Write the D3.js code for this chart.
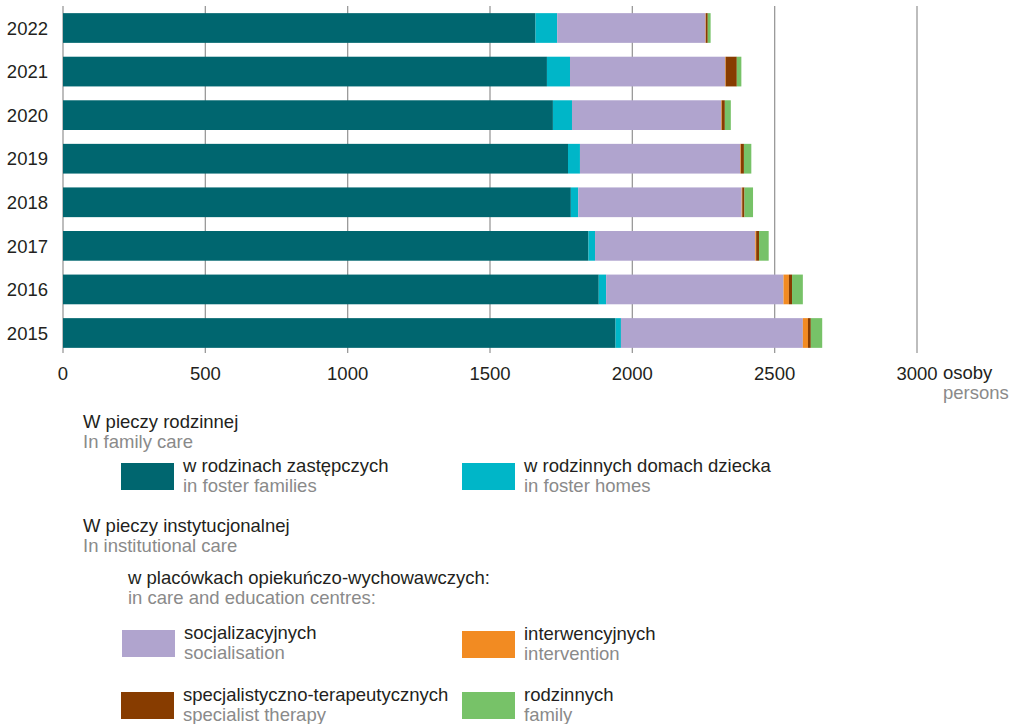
<!DOCTYPE html>
<html>
<head>
<meta charset="utf-8">
<script src="https://cdn.jsdelivr.net/npm/d3@7"></script>
<style>
  body { margin: 0; background: #fff; }
  text { font-family: "Liberation Sans", Arial, sans-serif; }
</style>
</head>
<body>
<div id="canvas"></div>
<script>
const years = ["2015", "2016", "2017", "2018", "2019", "2020", "2021", "2022"];

// values, persons
const fosterFamilies = [1941, 1882, 1846, 1784, 1774, 1721, 1700, 1660];
const fosterHomes = [19, 26, 23, 26, 42, 67, 81, 76];
const socialisation = [639, 623, 563, 574, 563, 524, 545, 521];
const intervention = [18, 19, 3, 2, 2, 2, 2, 1];
const specialist = [10, 11, 10, 8, 11, 11, 39, 7];
const family = [40, 38, 34, 30, 26, 21, 16, 10];

const xTicks = [0, 500, 1000, 1500, 2000, 2500, 3000];

const keys = ["fosterFamilies", "fosterHomes", "socialisation", "intervention", "specialist", "family"];
const colors = {
  fosterFamilies: "#00666f",
  fosterHomes: "#00b6c8",
  socialisation: "#b0a4ce",
  intervention: "#f28b22",
  specialist: "#873c00",
  family: "#77c268",
};

const table = years.map((y, i) => ({
  year: y,
  fosterFamilies: fosterFamilies[i],
  fosterHomes: fosterHomes[i],
  socialisation: socialisation[i],
  intervention: intervention[i],
  specialist: specialist[i],
  family: family[i],
}));

const width = 1018;
const height = 724;
const dark = "#231f20";
const grey = "#8a8a8a";
const fs = 18.5;

const svg = d3.select("#canvas").append("svg")
  .attr("width", width)
  .attr("height", height);

const x = d3.scaleLinear().domain([0, 3000]).range([63, 917]);
const y = d3.scaleBand()
  .domain(years.slice().reverse())
  .range([7, 354])
  .paddingInner(0.318)
  .paddingOuter(0.141);

// gridlines
svg.append("g")
  .selectAll("line")
  .data(xTicks)
  .enter()
  .append("line")
  .attr("x1", (d) => x(d))
  .attr("x2", (d) => x(d))
  .attr("y1", 6)
  .attr("y2", 353)
  .attr("stroke", "#9a9a9a")
  .attr("stroke-width", 1.3);

const series = d3.stack().keys(keys)(table);

svg.append("g")
  .selectAll("g")
  .data(series)
  .enter()
  .append("g")
  .attr("fill", (s) => colors[s.key])
  .selectAll("rect")
  .data((s) => s)
  .enter()
  .append("rect")
  .attr("x", (d) => x(d[0]))
  .attr("y", (d) => y(d.data.year))
  .attr("width", (d) => x(d[1]) - x(d[0]))
  .attr("height", y.bandwidth());

// year labels
svg.append("g")
  .selectAll("text")
  .data(years)
  .enter()
  .append("text")
  .attr("x", 48)
  .attr("y", (d) => y(d) + y.bandwidth() / 2)
  .attr("dy", "0.36em")
  .attr("text-anchor", "end")
  .attr("font-size", fs)
  .attr("fill", dark)
  .text((d) => d);

// x axis labels
svg.append("g")
  .selectAll("text")
  .data(xTicks)
  .enter()
  .append("text")
  .attr("x", (d) => x(d))
  .attr("y", 380)
  .attr("text-anchor", "middle")
  .attr("font-size", fs)
  .attr("fill", dark)
  .text((d) => d);

svg.append("text").attr("x", 943).attr("y", 379)
  .attr("font-size", fs).attr("fill", dark).text("osoby");
svg.append("text").attr("x", 943).attr("y", 399)
  .attr("font-size", fs).attr("fill", grey).text("persons");

// legend
const headers = [
  { x: 83, y: 428, pl: "W pieczy rodzinnej", en: "In family care" },
  { x: 83, y: 532, pl: "W pieczy instytucjonalnej", en: "In institutional care" },
  { x: 128, y: 584, pl: "w placówkach opiekuńczo-wychowawczych:", en: "in care and education centres:" },
];

const legendItems = [
  { key: "fosterFamilies", x: 121, y: 463, pl: "w rodzinach zastępczych", en: "in foster families" },
  { key: "fosterHomes", x: 462, y: 463, pl: "w rodzinnych domach dziecka", en: "in foster homes" },
  { key: "socialisation", x: 122, y: 630, pl: "socjalizacyjnych", en: "socialisation" },
  { key: "intervention", x: 462, y: 631, pl: "interwencyjnych", en: "intervention" },
  { key: "specialist", x: 121, y: 692, pl: "specjalistyczno-terapeutycznych", en: "specialist therapy" },
  { key: "family", x: 462, y: 692, pl: "rodzinnych", en: "family" },
];

const hd = svg.append("g").selectAll("g").data(headers).enter().append("g");
hd.append("text")
  .attr("x", (d) => d.x).attr("y", (d) => d.y)
  .attr("font-size", fs).attr("fill", dark)
  .text((d) => d.pl);
hd.append("text")
  .attr("x", (d) => d.x).attr("y", (d) => d.y + 20)
  .attr("font-size", fs).attr("fill", grey)
  .text((d) => d.en);

const lg = svg.append("g").selectAll("g").data(legendItems).enter().append("g");
lg.append("rect")
  .attr("x", (d) => d.x).attr("y", (d) => d.y)
  .attr("width", 53).attr("height", 27)
  .attr("fill", (d) => colors[d.key]);
lg.append("text")
  .attr("x", (d) => d.x + 62).attr("y", (d) => d.y + 9)
  .attr("font-size", fs).attr("fill", dark)
  .text((d) => d.pl);
lg.append("text")
  .attr("x", (d) => d.x + 62).attr("y", (d) => d.y + 29)
  .attr("font-size", fs).attr("fill", grey)
  .text((d) => d.en);
</script>
</body>
</html>
